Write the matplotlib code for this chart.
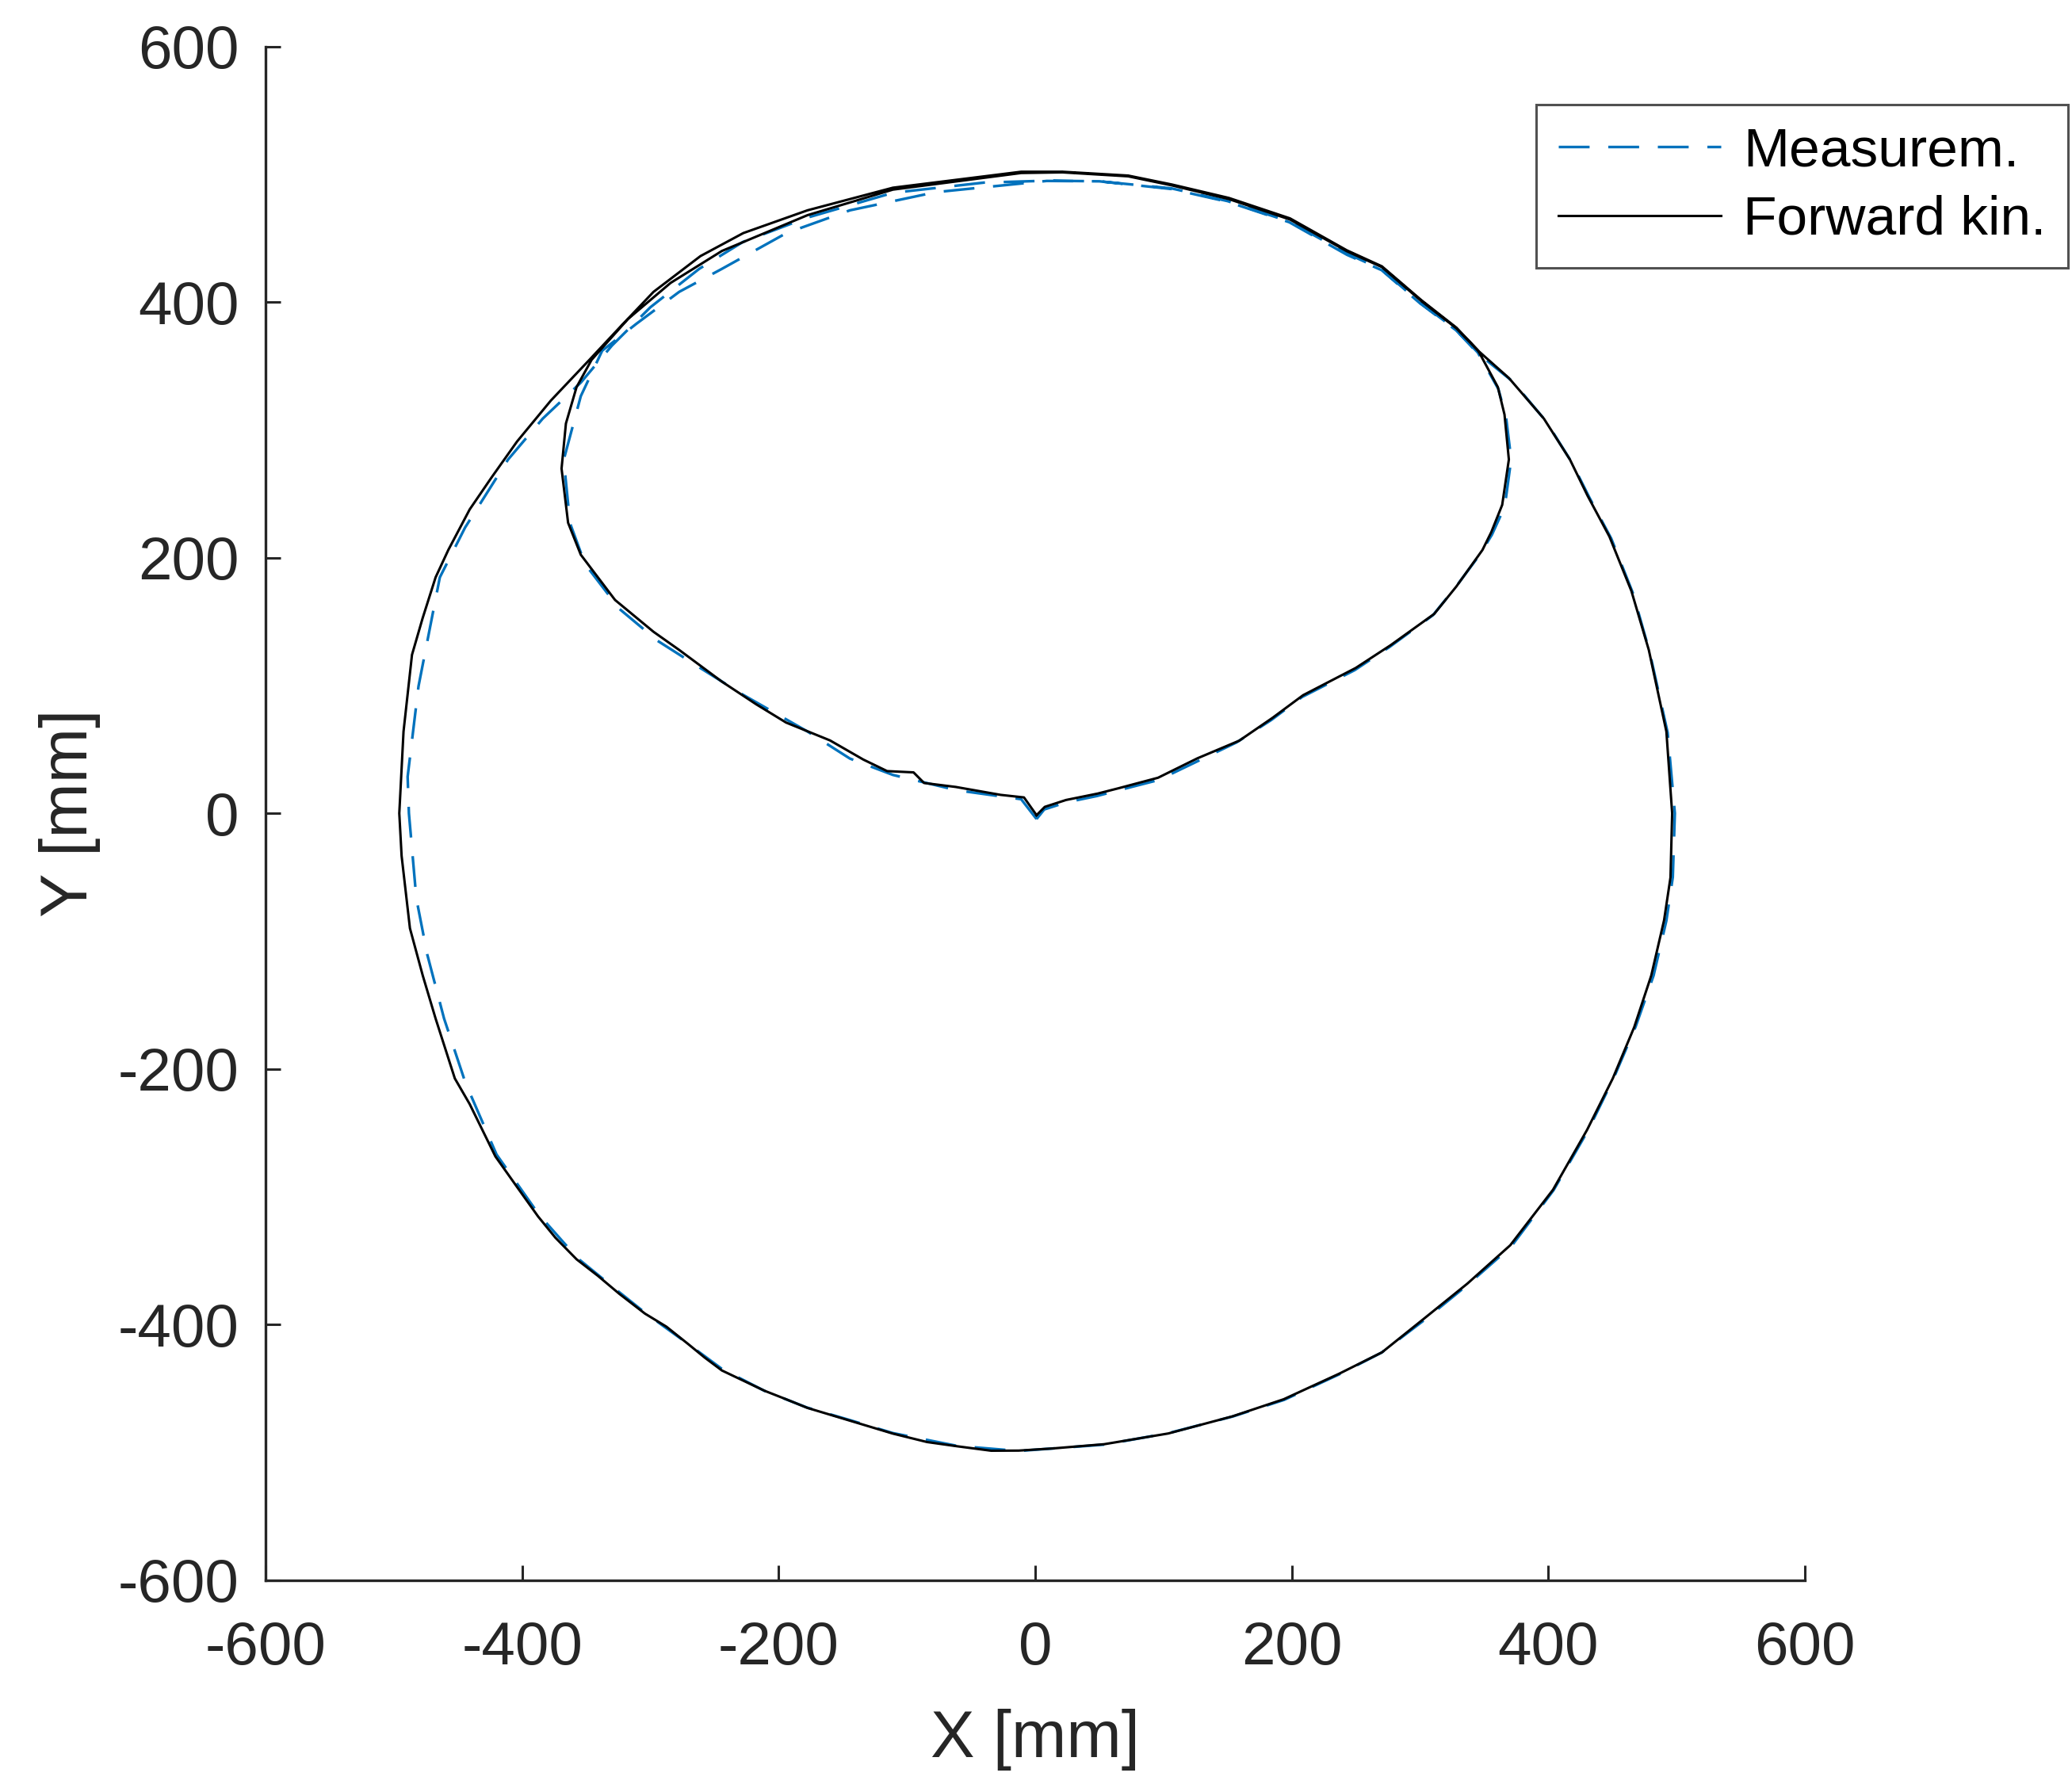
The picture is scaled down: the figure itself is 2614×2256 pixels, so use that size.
import numpy as np
import matplotlib
matplotlib.use("Agg")
import matplotlib.pyplot as plt

plt.rcParams.update({
    "font.family": ["Liberation Sans", "DejaVu Sans"],
    "axes.unicode_minus": False,
    "lines.scale_dashes": False,
})

# forward kinematics path (mm): cusp -> left lobe -> top -> full circle -> top -> right lobe -> cusp
fk_x = [1, -8.8, -27, -62, -86.7, -94.9, -115.5, -134, -160, -194.3, -217.6, -244.3, -277.6,
        -297.6, -327.6, -354.3, -364.2, -369.3, -365.9, -357.6, -345.9, -317.6, -284.3, -244.3,
        -177.6, -111, -11, 21.2, 72.4, 106.5, 150.9, 198.6, 242.9, 270.2, 301, 328.3, 345.3,
        369.2, 396.5, 416.8, 430.6, 447.6, 464.7, 478.3, 492, 496.5, 495.2, 490.2, 480.2,
        466.9, 450.2, 430.2, 403.6, 370.3, 336.9, 303.6, 270.3, 237, 193.7, 153.7, 103.7,
        53.7, 13.8, -12.9, -34.4, -61, -84.4, -111, -144.3, -161, -177.6, -194.3, -211, -244.3,
        -257.6, -271, -287.6, -304.3, -324.3, -340.9, -357.6, -374.2, -387.6, -404.3, -420.9,
        -440.9, -452.5, -467.5, -477.5, -487.5, -494, -495.8, -492.5,
        -485.9, -477.6, -467.5, -457.6, -440.9, -424, -404, -377.6, -347.6, -324.3, -297.6,
        -261, -227.6, -177.6, -111, -11, 21.2, 72.4, 106.5, 150.9, 198.6, 242.9, 270.2, 301,
        328.3, 345.3, 360.6, 365.8, 369.2, 364, 355.5, 348.6, 328.3, 311, 277, 249.8, 208.8,
        185, 159, 126.4, 95.7, 65, 48.6, 24, 7.4, 1]
fk_y = [-1.5, 12.4, 14.4, 20.6, 23.7, 32, 33, 42, 57, 71, 85.3, 103, 127.8,
        142, 166.9, 202.3, 227.3, 269.7, 305, 333.5, 354.8, 386.7, 415, 440,
        468, 488, 501, 501.5, 498.4, 491.3, 480.6, 464.6, 439.8, 427.4, 400.8, 379.5, 361.9,
        340.6, 308.8, 276.8, 248.4, 216.5, 174, 127.8, 64, 0, -50.2, -83.7, -127,
        -167.4, -207.5, -247.7, -294.6, -338, -368, -395, -421.8, -438.5, -458.5, -471.9, -485.3,
        -493.7, -497, -498.7, -498.8, -495.3, -492, -485.4, -475.3, -470.3, -465.3, -458.5, -451.9, -436,
        -426, -415, -401.7, -391.5, -376, -362, -349, -332, -315.5, -292, -268.5,
        -227.6, -207.5, -160.6, -127, -90, -33.3, 0, 64,
        124, 152.7, 184.6, 206, 237.8, 262.6, 290.9, 323, 354.8, 379.8, 408,
        436, 454, 471.8, 489.5, 502, 502, 499, 492, 481.5, 465.5, 440.5, 428, 401.5,
        380, 362, 333.5, 312, 276.8, 241.3, 220, 206, 177.5, 156, 131.5, 113.7, 92.4,
        74.7, 56.8, 43, 27.8, 19.6, 15.4, 10.4, 5, -1.5]

# measured path (mm), same order
ms_x = [1, -11, -61, -111, -144.5, -177.6, -227.6, -261, -294.5, -324.3, -351, -362.7,
        -367.6, -354.3, -337.6, -311, -277.6, -244.3, -194, -144.5, -77.7, 8.9, 50, 106,
        150, 198, 243, 270, 300, 328, 345, 372, 398, 418, 432, 449, 466, 479, 493, 498.6,
        497, 492, 482, 468, 451, 431, 404, 371, 337, 304, 270, 237, 194, 154, 104, 54, 14,
        -13, -61, -111, -144, -178, -211, -244, -271, -304, -324, -357, -387, -420, -444.2,
        -460.9, -474, -482.5, -488.3, -489.3, -480.8, -464.2, -444.5, -411, -384, -354.3,
        -330, -300, -262, -228, -178, -111, -40, 10, 50, 106, 150, 198, 243, 270, 300, 328,
        345, 361, 367, 371, 366, 356, 347, 327, 310, 276, 249, 208, 184, 157, 125, 96, 65,
        48, 24, 7, 1]
ms_y = [-4.5, 11, 18, 30, 42.8, 64, 92.6, 113.6, 135, 160, 195, 227,
        276.6, 326.4, 362, 383, 408, 426, 454, 471.8, 486, 494.8, 494.5, 488.5,
        478.5, 462.5, 437, 425, 399, 378, 360, 338, 307, 275, 247, 215, 172, 126, 63, 0,
        -50, -84, -127, -167, -207, -248, -295, -339, -369, -396, -422, -439, -459, -472, -485, -494, -497,
        -499, -495, -485, -475, -465, -452, -435, -415, -391, -375, -348, -314, -267, -211,
        -160.6, -110.5, -66.7, 0, 28.6, 99.5, 184.6, 223.6, 276.8, 308.8, 337,
        366, 396, 426, 447, 466, 485.5, 493.5, 495, 494.5, 489, 479, 463, 438, 425.5, 399.5, 378.5,
        360.5, 332, 310, 277, 240, 218, 203, 176, 155, 130, 112, 91, 73, 55.5, 40, 26, 18,
        13.5, 8.5, 3, -4.5]

ticks = [-600, -400, -200, 0, 200, 400, 600]
dark = "#262626"

fig = plt.figure(figsize=(26.14, 22.56), dpi=100)
ax = fig.add_axes([0.1282, 0.1163, 0.7429, 0.8577])

ax.plot(ms_x, ms_y, color="#0072BD", lw=2.4, dashes=[28, 17], label="Measurem.")
ax.plot(fk_x, fk_y, color="black", lw=2.2, label="Forward kin.")

ax.set_xlim(-600, 600)
ax.set_ylim(-600, 600)
ax.set_xticks(ticks)
ax.set_yticks(ticks)
ax.spines["top"].set_visible(False)
ax.spines["right"].set_visible(False)
for s in ("left", "bottom"):
    ax.spines[s].set_linewidth(2.4)
    ax.spines[s].set_color(dark)
ax.tick_params(direction="in", length=14, width=2.2, colors=dark, labelsize=55)
ax.tick_params(axis="x", pad=37)
ax.tick_params(axis="y", pad=24)

ax.set_xlabel("X [mm]", fontsize=60, color=dark)
ax.set_ylabel("Y [mm]", fontsize=60, color=dark)
ax.xaxis.set_label_coords(0.5, -0.084)
ax.yaxis.set_label_coords(-0.107, 0.5)

leg = ax.legend(loc="upper right", bbox_to_anchor=(2609 / 2614, 1 - 132 / 2256),
                bbox_transform=fig.transFigure, borderaxespad=0, fontsize=50,
                frameon=True, fancybox=False, handlelength=2.95, handletextpad=0.4,
                borderpad=0.4, labelspacing=0.32)
leg.get_frame().set_edgecolor(dark)
leg.get_frame().set_linewidth(2.2)

fig.savefig("out.png", dpi=100)
